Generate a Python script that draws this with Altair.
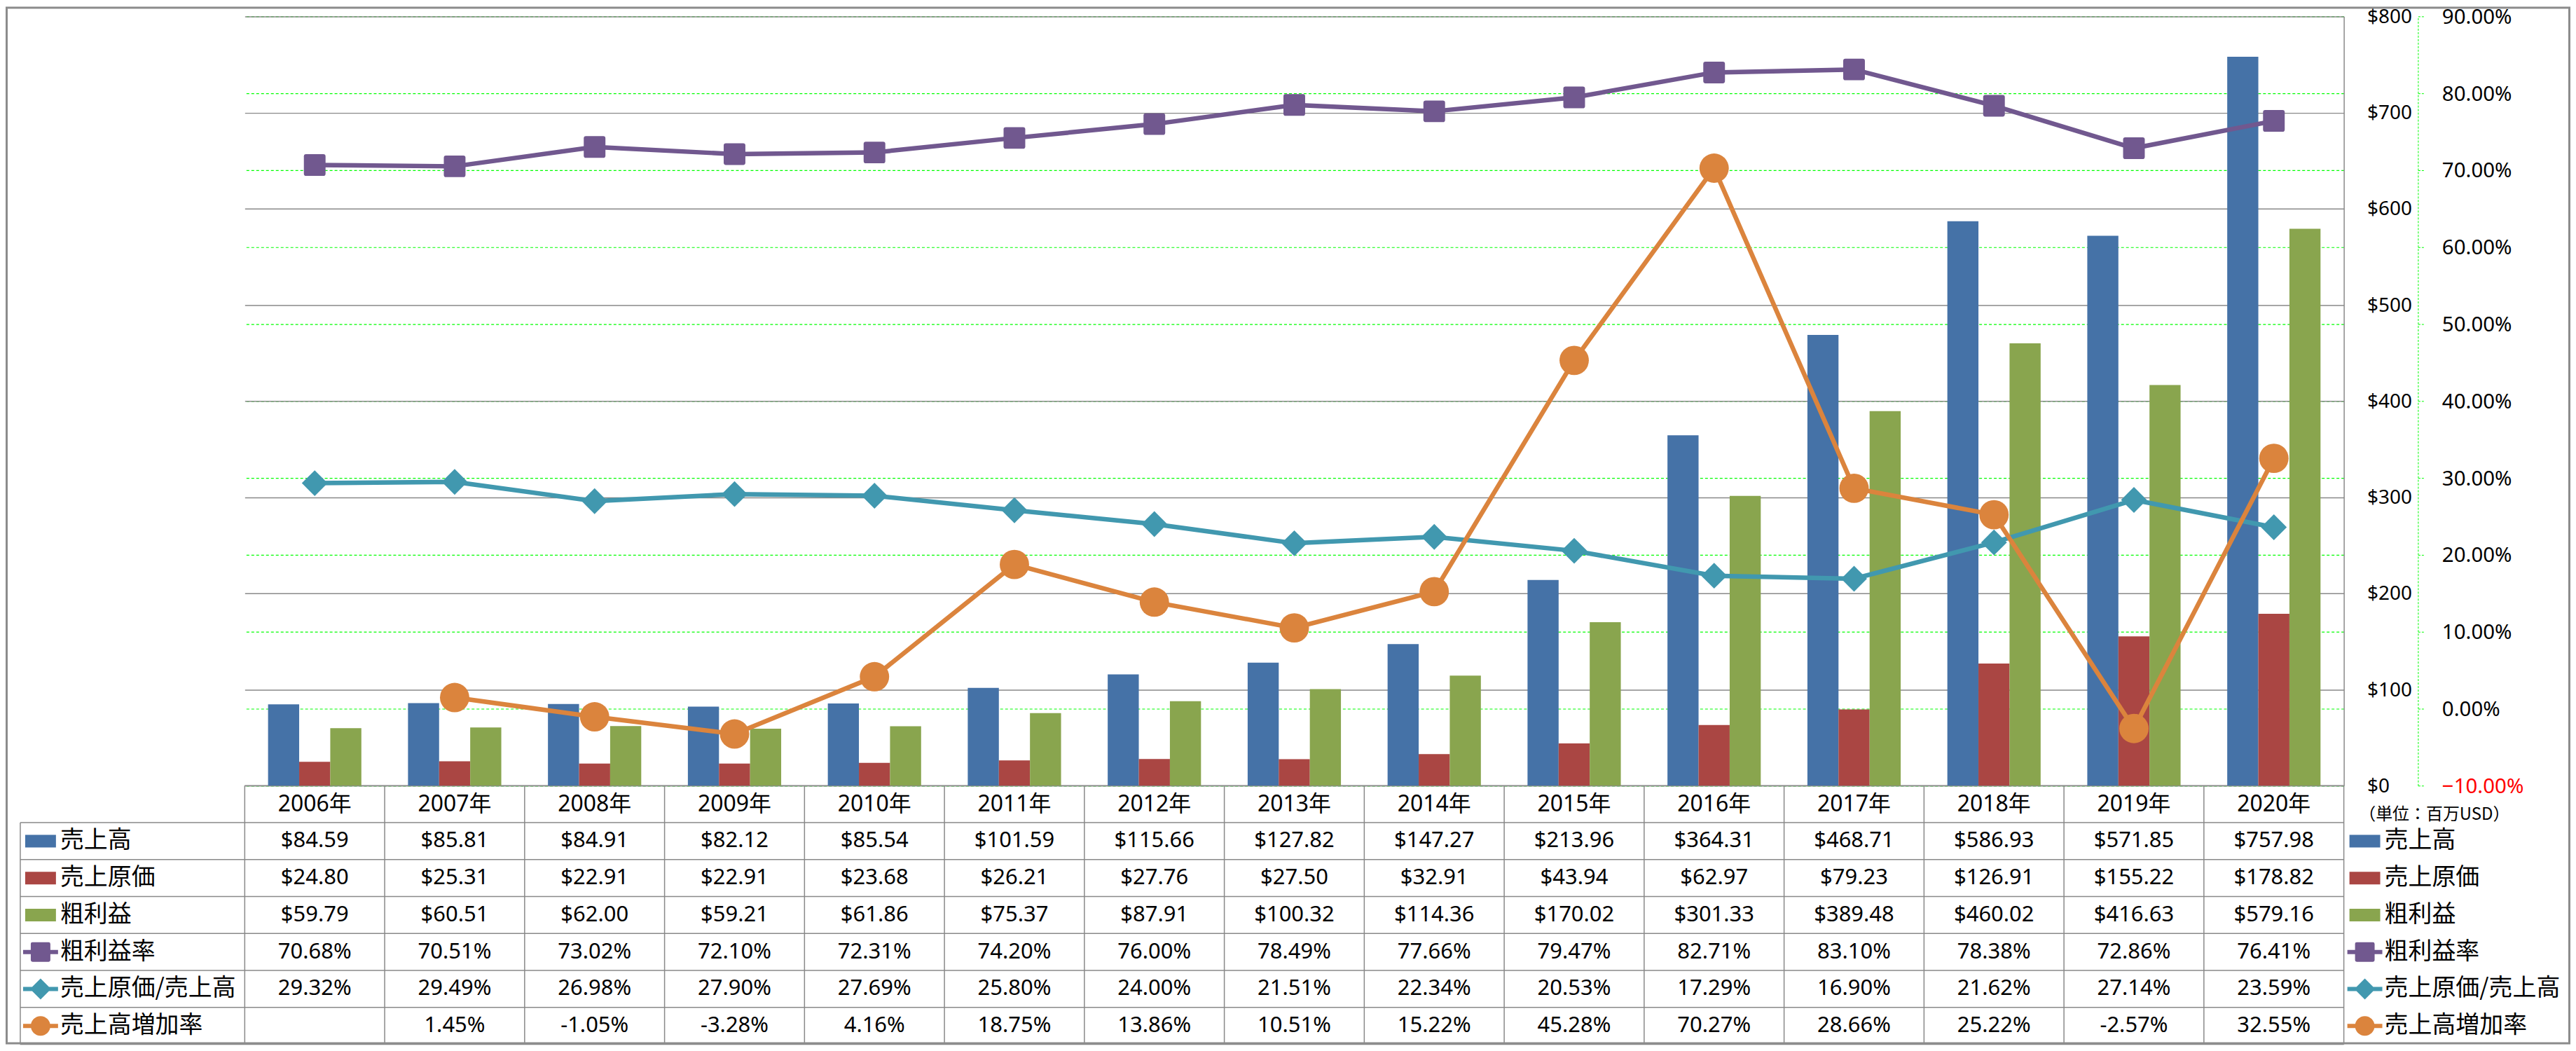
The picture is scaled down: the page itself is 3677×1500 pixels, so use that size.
import altair as alt
import pandas as pd

# ---------------- data ----------------
years = ["2006年", "2007年", "2008年", "2009年", "2010年", "2011年", "2012年", "2013年",
         "2014年", "2015年", "2016年", "2017年", "2018年", "2019年", "2020年"]
sales = [84.59, 85.81, 84.91, 82.12, 85.54, 101.59, 115.66, 127.82,
         147.27, 213.96, 364.31, 468.71, 586.93, 571.85, 757.98]
cogs = [24.80, 25.31, 22.91, 22.91, 23.68, 26.21, 27.76, 27.50,
        32.91, 43.94, 62.97, 79.23, 126.91, 155.22, 178.82]
gross = [59.79, 60.51, 62.00, 59.21, 61.86, 75.37, 87.91, 100.32,
         114.36, 170.02, 301.33, 389.48, 460.02, 416.63, 579.16]
gross_margin = [70.68, 70.51, 73.02, 72.10, 72.31, 74.20, 76.00, 78.49,
                77.66, 79.47, 82.71, 83.10, 78.38, 72.86, 76.41]
cogs_ratio = [29.32, 29.49, 26.98, 27.90, 27.69, 25.80, 24.00, 21.51,
              22.34, 20.53, 17.29, 16.90, 21.62, 27.14, 23.59]
sales_growth = [None, 1.45, -1.05, -3.28, 4.16, 18.75, 13.86, 10.51,
                15.22, 45.28, 70.27, 28.66, 25.22, -2.57, 32.55]

bar_series = ["売上高", "売上原価", "粗利益"]
line_series = ["粗利益率", "売上原価/売上高", "売上高増加率"]
all_series = bar_series + line_series
dollar_ticks = [0, 100, 200, 300, 400, 500, 600, 700, 800]
pct_ticks = [-0.1, 0.0, 0.1, 0.2, 0.3, 0.4, 0.5, 0.6, 0.7, 0.8, 0.9]
unit_label = "（単位：百万USD）"

# ---------------- styles / layout ----------------
colors = ["#4572A7", "#AA4643", "#89A54E", "#71588F", "#4198AF", "#DB843D"]
W, H = 3002, 1100
TABLE_BOTTOM = 1470
GRAY = "#898989"
GREEN = "#00FF00"
FONT_LAT = "Noto Sans, Noto Sans CJK JP"
FONT_CJK = "Noto Sans CJK JP"

rounded_square = ("M-0.8,-1H0.8Q1,-1 1,-0.8V0.8Q1,1 0.8,1H-0.8Q-1,1 -1,0.8V-0.8Q-1,-1 -0.8,-1Z")
line_part = "M-1,-0.12H1V0.12H-1Z "
sym_paths = [
    "M-0.88,-0.36H0.88V0.36H-0.88Z",
    "M-0.88,-0.36H0.88V0.36H-0.88Z",
    "M-0.88,-0.36H0.88V0.36H-0.88Z",
    line_part + "M-0.46,-0.56H0.46Q0.56,-0.56 0.56,-0.46V0.46Q0.56,0.56 0.46,0.56"
                "H-0.46Q-0.56,0.56 -0.56,0.46V-0.46Q-0.56,-0.56 -0.46,-0.56Z",
    line_part + "M0,-0.6L0.6,0L0,0.6L-0.6,0Z",
    line_part + "M-0.56,0A0.56,0.56 0 0,1 0.56,0A0.56,0.56 0 0,1 -0.56,0Z",
]

# ---------------- tables built from the arrays ----------------
bar_vals = [sales, cogs, gross]
bars_df = pd.DataFrame([
    {"year": y, "series": s, "value": vals[i]}
    for s, vals in zip(bar_series, bar_vals) for i, y in enumerate(years)
])
line_vals = [gross_margin, cogs_ratio, sales_growth]
lines_df = pd.DataFrame([
    {"year": y, "series": s, "rate": vals[i] / 100.0}
    for s, vals in zip(line_series, line_vals) for i, y in enumerate(years)
    if vals[i] is not None
])

header_df = pd.DataFrame({"year": years, "ry": [0.5] * len(years)})
rows = []
for k, (s, vals) in enumerate(zip(all_series, bar_vals + line_vals)):
    for i, y in enumerate(years):
        v = vals[i]
        if v is None:
            continue
        txt = f"${v:,.2f}" if k < 3 else f"{v:.2f}%"
        rows.append({"year": y, "ry": k + 1.5, "txt": txt})
values_df = pd.DataFrame(rows)

LEFT_SYM, LEFT_TXT = -1.459, -1.319
RIGHT_SYM, RIGHT_TXT = 15.15, 15.29
labels_df = pd.DataFrame(
    [{"series": s, "ry": k + 1.5, "cx": LEFT_TXT} for k, s in enumerate(all_series)]
    + [{"series": s, "ry": k + 1.5, "cx": RIGHT_TXT} for k, s in enumerate(all_series)]
)
symbols_df = pd.DataFrame(
    [{"series": s, "ry": k + 1.5, "cx": LEFT_SYM} for k, s in enumerate(all_series)]
    + [{"series": s, "ry": k + 1.5, "cx": RIGHT_SYM} for k, s in enumerate(all_series)]
)

LABEL_COL = -1.604
rule_rows = []
for r in range(0, 8):
    rule_rows.append({"x1": 0 if r == 0 else LABEL_COL, "x2": 15, "y1": r, "y2": r})
for c in range(0, 16):
    rule_rows.append({"x1": c, "x2": c, "y1": 0, "y2": 7})
rule_rows.append({"x1": LABEL_COL, "x2": LABEL_COL, "y1": 1, "y2": 7})
rules_df = pd.DataFrame(rule_rows)

# ---------------- scales ----------------
band = alt.Scale(domain=years, paddingInner=0, paddingOuter=0)
col_scale = alt.Scale(domain=[0, 15])
row_scale = alt.Scale(domain=[0, 7], range=[H, TABLE_BOTTOM])
color_scale = alt.Scale(domain=all_series, range=colors)
usd_scale = alt.Scale(domain=[0, 800])
pct_scale = alt.Scale(domain=[-0.1, 0.9])

usd_axis = alt.Axis(
    orient="right", values=dollar_ticks, format="$,.0f", offset=0,
    ticks=False, tickSize=0, labelPadding=33, labelAlign="left", labelBaseline="middle",
    labelFontSize=28, labelFont=FONT_LAT, labelColor="#000000", labelOverlap=False,
    labelFlush=False, labelBound=False, labelOffset=1,
    domain=True, domainColor=GRAY, domainWidth=1.5,
    grid=True, gridColor=GRAY, gridWidth=1.5,
    title=unit_label, titleX=129, titleY=1141, titleAngle=0, titleAlign="center",
    titleBaseline="middle", titleFontSize=24, titleFont=FONT_CJK, titleFontWeight="normal",
    titleColor="#000000",
)
pct_axis = alt.Axis(
    orient="right", values=pct_ticks, format=".2%", offset=106,
    ticks=True, tickSize=10, tickColor=GREEN, tickDash=[3, 2], tickWidth=1,
    labelPadding=24, labelAlign="left", labelBaseline="middle",
    labelFontSize=29.5, labelFont=FONT_LAT, labelOverlap=False, labelFlush=False, labelBound=False,
    labelOffset=1,
    labelColor={"condition": {"test": "datum.value < 0", "value": "#FF0000"}, "value": "#000000"},
    domain=True, domainColor=GREEN, domainDash=[3, 2], domainWidth=1,
    grid=True, gridColor=GREEN, gridDash=[4, 3], gridWidth=1.2,
    title=None,
)

# ---------------- layers ----------------
# invisible carrier of the percent axis, first so its grid sits beneath the $ grid
pct_axis_layer = alt.Chart(lines_df).mark_line(strokeOpacity=0).encode(
    x=alt.X("year:N", scale=band, axis=None),
    y=alt.Y("rate:Q", scale=pct_scale, axis=pct_axis),
    detail="series:N",
)

table_rules = alt.Chart(rules_df).mark_rule(color=GRAY, strokeWidth=1.5).encode(
    x=alt.X("x1:Q", scale=col_scale, axis=None), x2="x2:Q",
    y=alt.Y("y1:Q", scale=row_scale, axis=None), y2="y2:Q",
)

bars = alt.Chart(bars_df).mark_bar().encode(
    x=alt.X("year:N", scale=band, axis=None),
    xOffset=alt.XOffset("series:N", scale=alt.Scale(domain=bar_series, paddingInner=0, paddingOuter=0.75)),
    y=alt.Y("value:Q", scale=usd_scale, axis=usd_axis),
    color=alt.Color("series:N", scale=color_scale, legend=None),
)

lines = alt.Chart(lines_df).mark_line(strokeWidth=6.5).encode(
    x=alt.X("year:N", scale=band, axis=None),
    y=alt.Y("rate:Q", scale=pct_scale, axis=None),
    color=alt.Color("series:N", scale=color_scale, legend=None),
    detail="series:N",
)

points = alt.Chart(lines_df).mark_point(filled=True, opacity=1).encode(
    x=alt.X("year:N", scale=band, axis=None),
    y=alt.Y("rate:Q", scale=pct_scale, axis=None),
    color=alt.Color("series:N", scale=color_scale, legend=None),
    shape=alt.Shape("series:N", scale=alt.Scale(domain=line_series, range=[rounded_square, "diamond", "circle"]), legend=None),
    size=alt.Size("series:N", scale=alt.Scale(domain=line_series, range=[961, 1764, 755]), legend=None),
)

header = alt.Chart(header_df).mark_text(fontSize=32, font=FONT_LAT, align="center", baseline="middle", color="#000000").encode(
    x=alt.X("year:N", scale=band, axis=None),
    y=alt.Y("ry:Q", scale=row_scale, axis=None),
    text="year:N",
)

cells = alt.Chart(values_df).mark_text(fontSize=31, font=FONT_LAT, align="center", baseline="middle", color="#000000").encode(
    x=alt.X("year:N", scale=band, axis=None),
    y=alt.Y("ry:Q", scale=row_scale, axis=None),
    text="txt:N",
)

labels = alt.Chart(labels_df).mark_text(fontSize=34, font=FONT_CJK, align="left", baseline="middle", color="#000000").encode(
    x=alt.X("cx:Q", scale=col_scale, axis=None),
    y=alt.Y("ry:Q", scale=row_scale, axis=None),
    text="series:N",
)

symbols = alt.Chart(symbols_df).mark_point(filled=True, opacity=1, size=2500).encode(
    x=alt.X("cx:Q", scale=col_scale, axis=None),
    y=alt.Y("ry:Q", scale=row_scale, axis=None),
    color=alt.Color("series:N", scale=color_scale, legend=None),
    shape=alt.Shape("series:N", scale=alt.Scale(domain=all_series, range=sym_paths), legend=None),
)

frame = alt.Chart(pd.DataFrame({"k": [0]})).mark_rect(
    fillOpacity=0, stroke="#8C8C8C", strokeWidth=3
).encode(
    x=alt.value(-340.5), x2=alt.value(3324.5),
    y=alt.value(-12.5), y2=alt.value(TABLE_BOTTOM - 1.5),
)

chart = alt.layer(
    pct_axis_layer, table_rules, bars, lines, points, header, cells, labels, symbols, frame
).resolve_scale(
    x="independent", y="independent", shape="independent", size="independent"
).properties(
    width=W, height=H, padding=0, background="#FFFFFF"
).configure_view(stroke=None)

chart.save("out.html", embed_options={"renderer": "svg", "actions": False})
